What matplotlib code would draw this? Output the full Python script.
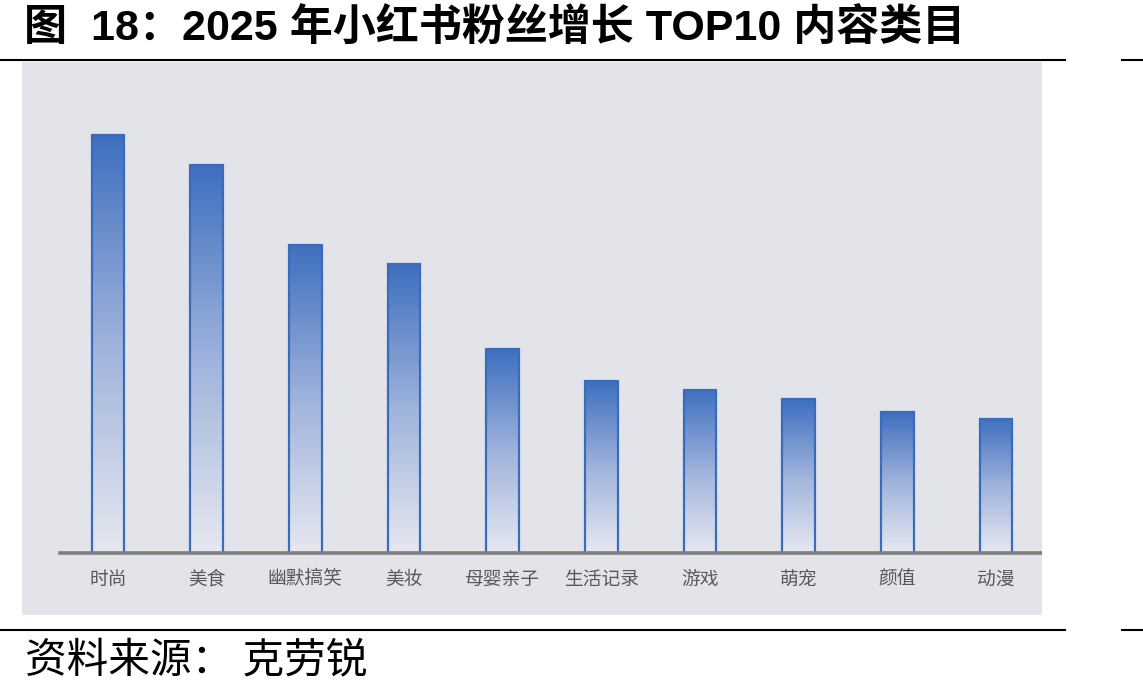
import matplotlib
matplotlib.use('Agg')
import matplotlib.pyplot as plt
import numpy as np
from matplotlib.colors import LinearSegmentedColormap
from matplotlib.lines import Line2D

plt.rcParams['font.family'] = ['Noto Sans CJK SC', 'DejaVu Sans']

# data (relative values; top bar = 100)
categories = ['时尚', '美食', '幽默搞笑', '美妆', '母婴亲子', '生活记录', '游戏', '萌宠', '颜值', '动漫']
values = [100.0, 92.8, 73.7, 69.1, 48.8, 41.1, 39.0, 36.8, 33.7, 32.1]

title = '图  18：2025 年小红书粉丝增长 TOP10 内容类目'
source = '资料来源： 克劳锐'

W, H = 1143, 696
fig = plt.figure(figsize=(W / 100, H / 100), dpi=100)

# grey panel holding the chart
px0, px1, py0, py1 = 22, 1042, 62, 615
ax = fig.add_axes([px0 / W, 1 - py1 / H, (px1 - px0) / W, (py1 - py0) / H])
ax.set_facecolor('#E3E4EA')
for s in ax.spines.values():
    s.set_visible(False)
ax.set_xticks([])
ax.set_yticks([])

step = 98.67
x0pix = 108
scale = 4.18

cmap = LinearSegmentedColormap.from_list('g', ['#E6E8F0', '#9FB3DC', '#3E6FBF'])
grad = np.linspace(0, 1, 256).reshape(-1, 1)
x = np.arange(len(categories))
bw = 0.33
bars = ax.bar(x, values, width=bw, facecolor='none', edgecolor='#3A6CBC', linewidth=1.6, zorder=3)
for b, v in zip(bars, values):
    im = ax.imshow(grad, cmap=cmap, origin='lower', aspect='auto',
                   extent=[b.get_x(), b.get_x() + bw, 0, v], zorder=2)
    im.set_clip_path(b)
ax.set_xlim((px0 - x0pix) / step, (px1 - x0pix) / step)
ax.set_ylim((553 - py1) / scale, (553 - py0) / scale)

ax.axhline(0, xmin=(60 - px0) / (px1 - px0), xmax=1, color='#7F7F7F', linewidth=2.6, zorder=4)

for i, c in enumerate(categories):
    ax.text(i, (553 - 579) / scale, c, ha='center', va='center', fontsize=13.5, color='#595959')

# title, rules and source
fig.text(24 / W, 1 - 29 / H, title, fontsize=31, fontweight='bold', va='center', ha='left',
         color='black', family=['Liberation Sans', 'Noto Sans CJK SC'])
for yy in (59.5, 629.5):
    fig.add_artist(Line2D([0, 1065 / W], [1 - yy / H] * 2, color='black', linewidth=1.5, transform=fig.transFigure))
    fig.add_artist(Line2D([1122 / W, 1], [1 - yy / H] * 2, color='black', linewidth=1.5, transform=fig.transFigure))
fig.text(25 / W, 1 - 661 / H, source, fontsize=30, va='center', ha='left', color='black')

fig.savefig('out.png', dpi=100)
